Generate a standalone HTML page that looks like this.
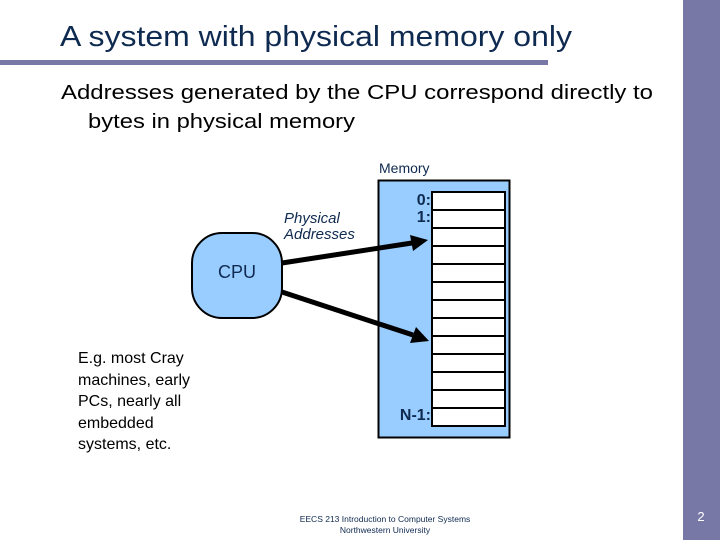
<!DOCTYPE html>
<html><head><meta charset="utf-8"><style>
html,body{margin:0;padding:0;background:#fff;}
body{width:720px;height:540px;position:relative;overflow:hidden;font-family:"Liberation Sans",Arial,sans-serif;}
</style></head><body>
<svg width="720" height="540" viewBox="0 0 720 540" xmlns="http://www.w3.org/2000/svg" style="position:absolute;left:0;top:0">
<rect x="683" y="0" width="37" height="540" fill="#7878a6"/>
<rect x="0" y="60" width="548" height="5" fill="#7878a6"/>
<text x="60" y="46" font-family="Liberation Sans, sans-serif" font-size="29" fill="#0f2a50" textLength="512" lengthAdjust="spacingAndGlyphs">A system with physical memory only</text>
<text x="61" y="99" font-size="20" fill="#000" textLength="592" lengthAdjust="spacingAndGlyphs">Addresses generated by the CPU correspond directly to</text>
<text x="88" y="128" font-size="20" fill="#000" textLength="267" lengthAdjust="spacingAndGlyphs">bytes in physical memory</text>
<text x="379" y="173" font-size="14" fill="#0f2a50">Memory</text>
<rect x="378.5" y="180.5" width="131" height="257" fill="#99ccff" stroke="#000" stroke-width="2"/>
<g fill="#fff" stroke="#000" stroke-width="2">
<rect x="432" y="192" width="73" height="18"/><rect x="432" y="210" width="73" height="18"/>
<rect x="432" y="228" width="73" height="18"/><rect x="432" y="246" width="73" height="18"/>
<rect x="432" y="264" width="73" height="18"/><rect x="432" y="282" width="73" height="18"/>
<rect x="432" y="300" width="73" height="18"/><rect x="432" y="318" width="73" height="18"/>
<rect x="432" y="336" width="73" height="18"/><rect x="432" y="354" width="73" height="18"/>
<rect x="432" y="372" width="73" height="18"/><rect x="432" y="390" width="73" height="18"/>
<rect x="432" y="408" width="73" height="18"/>
</g>
<g font-size="16" font-weight="bold" fill="#0f2a50" text-anchor="end">
<text x="431" y="205">0:</text><text x="431" y="222">1:</text><text x="431" y="420">N-1:</text>
</g>
<text x="284" y="223" font-size="15" font-style="italic" fill="#0f2a50">Physical</text>
<text x="284" y="239" font-size="15" font-style="italic" fill="#0f2a50">Addresses</text>
<rect x="192" y="233" width="90" height="85" rx="30" fill="#99ccff" stroke="#000" stroke-width="2"/>
<text x="237" y="278" font-size="18" fill="#0f2a50" text-anchor="middle">CPU</text>
<g stroke="#000" stroke-width="5">
<line x1="282" y1="263" x2="412" y2="243"/>
<line x1="282" y1="292" x2="413" y2="335"/>
</g>
<polygon points="428,240 410,235 413,251" fill="#000"/>
<polygon points="429,341 416,327 410,343" fill="#000"/>
<g font-size="16" fill="#000">
<text x="78" y="363">E.g. most Cray</text>
<text x="78" y="385">machines, early</text>
<text x="78" y="406">PCs, nearly all</text>
<text x="78" y="428">embedded</text>
<text x="78" y="449">systems, etc.</text>
</g>
<text x="385" y="522" font-size="8.5" fill="#0f2a50" text-anchor="middle">EECS 213 Introduction to Computer Systems</text>
<text x="385" y="533" font-size="8.5" fill="#0f2a50" text-anchor="middle">Northwestern University</text>
<text x="701" y="521" font-size="13" fill="#fff" text-anchor="middle">2</text>
</svg>
</body></html>
